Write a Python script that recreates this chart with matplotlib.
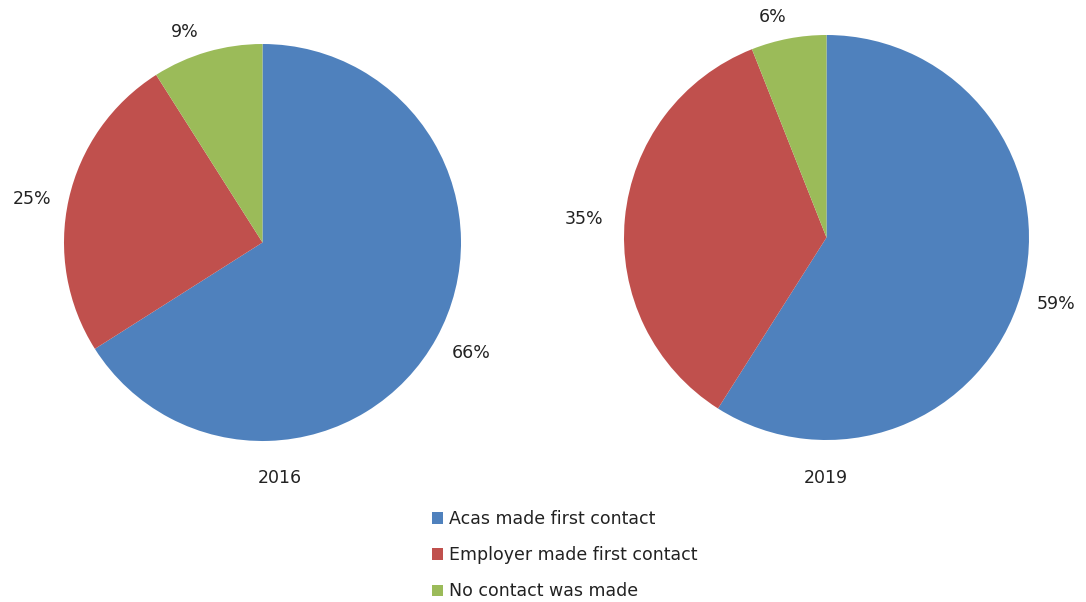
import matplotlib

matplotlib.use("Agg")
import matplotlib.pyplot as plt
import numpy as np

plt.rcParams["font.family"] = ["DejaVu Sans"]

categories = ["Acas made first contact", "Employer made first contact", "No contact was made"]
years = ["2016", "2019"]
shares_2016 = [66, 25, 9]
shares_2019 = [59, 35, 6]
colors = ["#4F81BD", "#C0504D", "#9BBB59"]

W, H = 1086, 602
FS = 12.5
fig = plt.figure(figsize=(W / 100, H / 100), dpi=100)
ax = fig.add_axes([0, 0, 1, 1])

# pie centre / radius in pixel space (y from bottom), label distance and angle nudge per slice
layout = [((262.5, H - 242.5), 198.5, (280, H - 478), [1.19, 1.18, 1.13], [1, 2, 4]),
          ((826.5, H - 237.5), 202.5, (826, H - 478), [1.18, 1.20, 1.12], [0, 1, 3])]

wedges = None
for shares, year, (center, radius, year_xy, dists, nudges) in zip(
        [shares_2016, shares_2019], years, layout):
    w, _ = ax.pie(
        shares,
        colors=colors,
        center=center,
        radius=radius,
        startangle=90,
        counterclock=False,
        frame=True,
    )
    for wedge, val, d, nd in zip(w, shares, dists, nudges):
        mid = np.deg2rad((wedge.theta1 + wedge.theta2) / 2 + nd)
        ax.text(center[0] + d * radius * np.cos(mid), center[1] + d * radius * np.sin(mid),
                f"{val}%", ha="center", va="center", fontsize=FS, color="#222222")
    ax.text(year_xy[0], year_xy[1], year, ha="center", va="center", fontsize=FS, color="#222222")
    if wedges is None:
        wedges = w

ax.set_xlim(0, W)
ax.set_ylim(0, H)
ax.set_aspect("equal")
ax.set_axis_off()

fig.legend(
    wedges,
    categories,
    loc="upper left",
    bbox_to_anchor=(432 / W, 1 - 510 / H),
    frameon=False,
    borderpad=0,
    borderaxespad=0,
    handlelength=0.65,
    handleheight=0.65,
    handletextpad=0.35,
    labelspacing=1.05,
    fontsize=FS,
    labelcolor="#222222",
)

fig.savefig("out.png", dpi=100)
